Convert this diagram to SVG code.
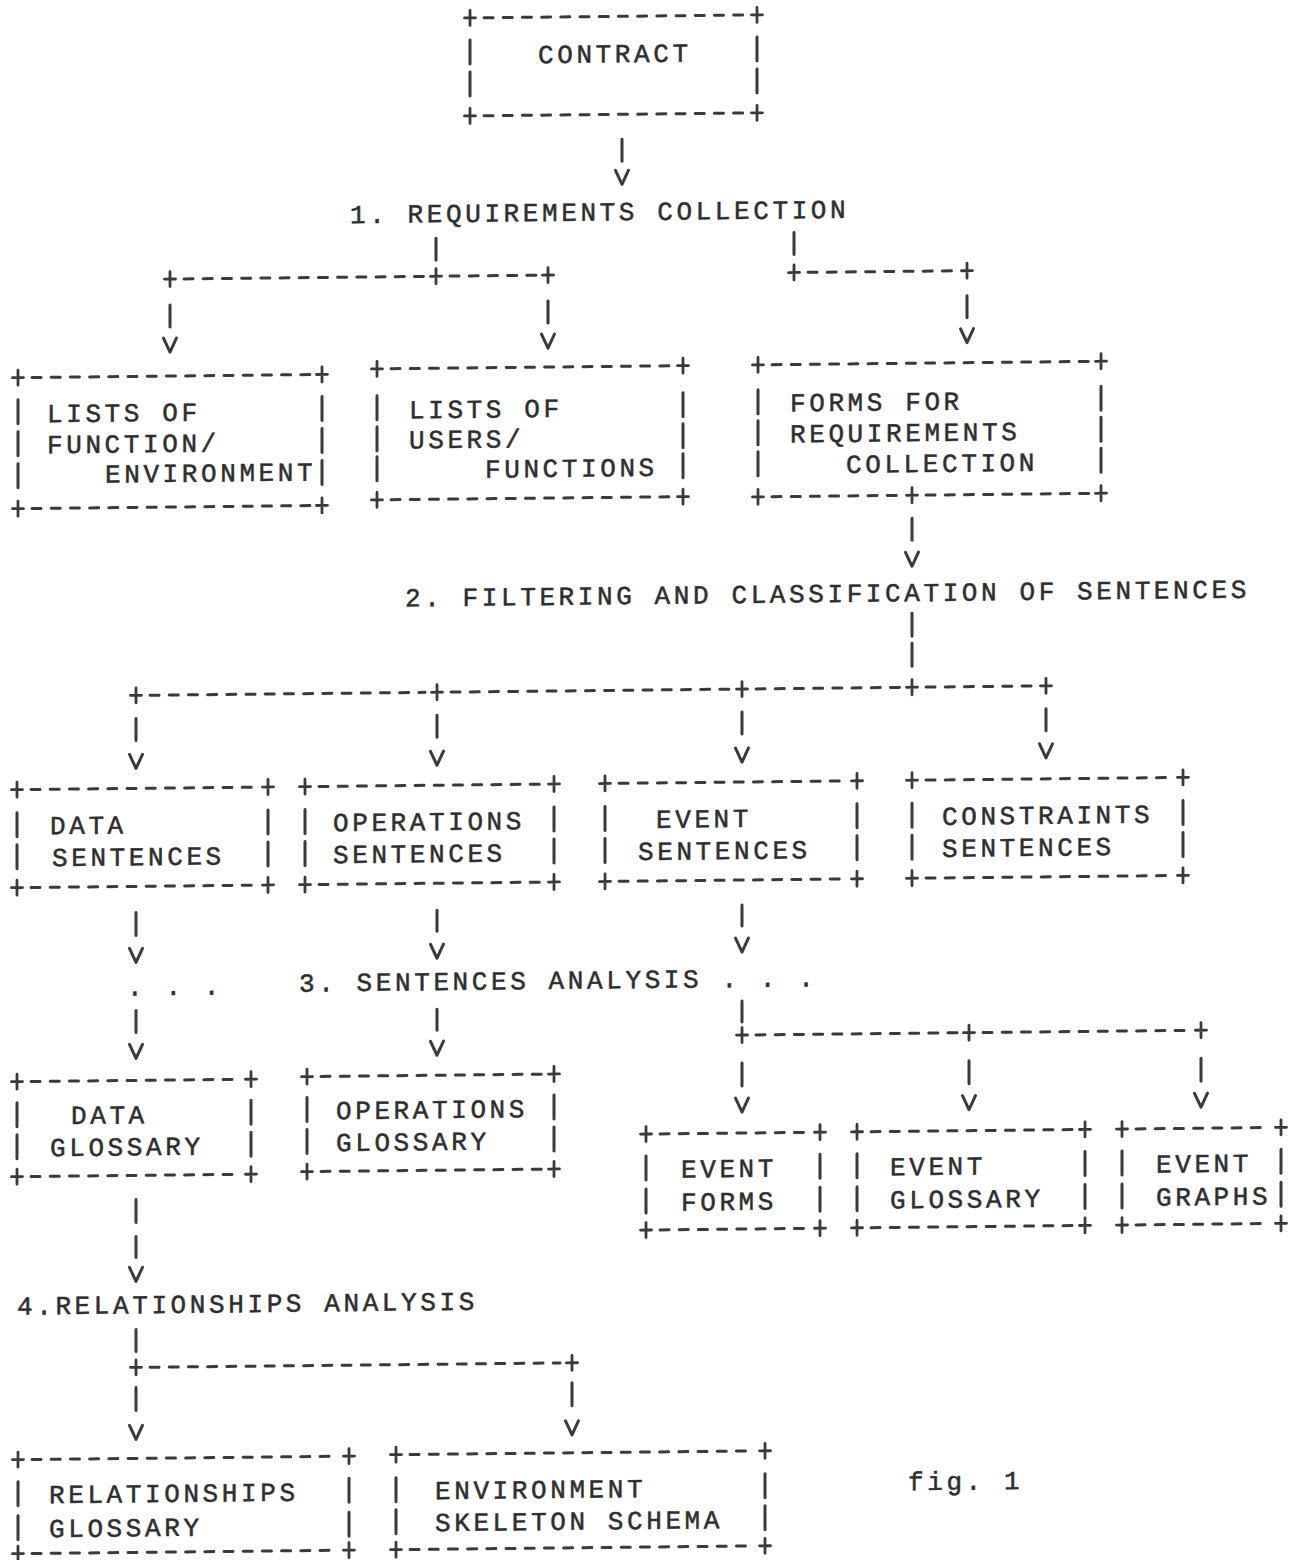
<svg xmlns="http://www.w3.org/2000/svg" xmlns:xlink="http://www.w3.org/1999/xlink" width="1299" height="1560" viewBox="0 0 1299 1560">
<style>
.d{fill:none;stroke:#3a3a3a;stroke-width:3;stroke-linecap:round;stroke-dasharray:9 10.2}
.s{fill:none;stroke:#3a3a3a;stroke-width:3;stroke-linecap:round}
.t{font-family:"Liberation Mono","DejaVu Sans Mono",monospace;font-size:26px;letter-spacing:3.6px;fill:#2e2e2e;stroke:#2e2e2e;stroke-width:0.5px}
</style>
<defs>
<path id="p" d="M-5.5,0H5.5M0,-7.5V7.5" fill="none" stroke="#3a3a3a" stroke-width="2.8" stroke-linecap="round"/>
<path id="v" d="M-6.5,-7L0,7L6.5,-7" fill="none" stroke="#3a3a3a" stroke-width="3" stroke-linecap="round" stroke-linejoin="round"/>
</defs>
<rect width="1299" height="1560" fill="#fff"/>
<g transform="matrix(1 -0.0105 0 1 0 6.825)">

<g id="contract">
<path class="d" d="M484,16H745M484,114H745"/>
<path class="s" d="M470,38V62M470,70V94M757,38V62M757,70V94"/>
<use href="#p" x="470" y="16"/><use href="#p" x="757" y="16"/><use href="#p" x="470" y="114"/><use href="#p" x="757" y="114"/>
<text class="t" x="538" y="62">CONTRACT</text>
</g>

<g id="step1"><text class="t" x="350" y="220">1. REQUIREMENTS COLLECTION</text></g>

<g id="lists-function">
<path class="d" d="M32,371H310M32,502H310"/>
<path class="s" d="M18,393V417M18,425V449M18,457V481M322,393V417M322,425V449M322,457V481"/>
<use href="#p" x="18" y="371"/><use href="#p" x="322" y="371"/><use href="#p" x="18" y="502"/><use href="#p" x="322" y="502"/>
<text class="t" x="47" y="416">LISTS OF</text>
<text class="t" x="47" y="447">FUNCTION/</text>
<text class="t" x="105" y="477">ENVIRONMENT</text>
</g>

<g id="lists-users">
<path class="d" d="M391,366H671M391,497H671"/>
<path class="s" d="M377,393V417M377,424V448M377,454V478M683,393V417M683,424V448M683,454V478"/>
<use href="#p" x="377" y="366"/><use href="#p" x="683" y="366"/><use href="#p" x="377" y="497"/><use href="#p" x="683" y="497"/>
<text class="t" x="409" y="416">LISTS OF</text>
<text class="t" x="409" y="446">USERS/</text>
<text class="t" x="485" y="476">FUNCTIONS</text>
</g>

<g id="forms">
<path class="d" d="M772,366H1089M772,498H900M926,498H1089"/>
<path class="s" d="M758,391V415M758,422V446M758,453V477M1101,391V415M1101,422V446M1101,453V477"/>
<use href="#p" x="758" y="366"/><use href="#p" x="1101" y="366"/><use href="#p" x="758" y="498"/><use href="#p" x="1101" y="498"/><use href="#p" x="912" y="498"/>
<text class="t" x="790" y="413">FORMS FOR</text>
<text class="t" x="790" y="444">REQUIREMENTS</text>
<text class="t" x="846" y="475">COLLECTION</text>
</g>

<g id="step2"><text class="t" x="405" y="604">2. FILTERING AND CLASSIFICATION OF SENTENCES</text></g>

<g id="data-sentences">
<path class="d" d="M31,783H256M31,881H256"/>
<path class="s" d="M17,806V830M17,838V862M268,806V830M268,838V862"/>
<use href="#p" x="17" y="783"/><use href="#p" x="268" y="783"/><use href="#p" x="17" y="881"/><use href="#p" x="268" y="881"/>
<text class="t" x="50" y="828">DATA</text>
<text class="t" x="52" y="860">SENTENCES</text>
</g>

<g id="operations-sentences">
<path class="d" d="M319,783H542M319,881H542"/>
<path class="s" d="M305,806V830M305,838V862M554,806V830M554,838V862"/>
<use href="#p" x="305" y="783"/><use href="#p" x="554" y="783"/><use href="#p" x="305" y="881"/><use href="#p" x="554" y="881"/>
<text class="t" x="333" y="828">OPERATIONS</text>
<text class="t" x="333" y="860">SENTENCES</text>
</g>

<g id="event-sentences">
<path class="d" d="M619,783H845M619,881H845"/>
<path class="s" d="M605,806V830M605,838V862M857,806V830M857,838V862"/>
<use href="#p" x="605" y="783"/><use href="#p" x="857" y="783"/><use href="#p" x="605" y="881"/><use href="#p" x="857" y="881"/>
<text class="t" x="656" y="828">EVENT</text>
<text class="t" x="638" y="860">SENTENCES</text>
</g>

<g id="constraints-sentences">
<path class="d" d="M926,783H1171M926,881H1171"/>
<path class="s" d="M912,806V830M912,838V862M1183,806V830M1183,838V862"/>
<use href="#p" x="912" y="783"/><use href="#p" x="1183" y="783"/><use href="#p" x="912" y="881"/><use href="#p" x="1183" y="881"/>
<text class="t" x="942" y="828">CONSTRAINTS</text>
<text class="t" x="942" y="860">SENTENCES</text>
</g>

<g id="step3"><text class="t" x="299" y="988">3. SENTENCES ANALYSIS . . .</text></g>

<g id="data-glossary">
<path class="d" d="M31,1075H239M31,1170H239"/>
<path class="s" d="M17,1096V1120M17,1128V1152M251,1096V1120M251,1128V1152"/>
<use href="#p" x="17" y="1075"/><use href="#p" x="251" y="1075"/><use href="#p" x="17" y="1170"/><use href="#p" x="251" y="1170"/>
<text class="t" x="71" y="1118">DATA</text>
<text class="t" x="50" y="1150">GLOSSARY</text>
</g>

<g id="operations-glossary">
<path class="d" d="M321,1073H542M321,1168H542"/>
<path class="s" d="M307,1094V1118M307,1126V1150M554,1094V1118M554,1126V1150"/>
<use href="#p" x="307" y="1073"/><use href="#p" x="554" y="1073"/><use href="#p" x="307" y="1168"/><use href="#p" x="554" y="1168"/>
<text class="t" x="336" y="1116">OPERATIONS</text>
<text class="t" x="336" y="1148">GLOSSARY</text>
</g>

<g id="event-forms">
<path class="d" d="M660,1134H808M660,1230H808"/>
<path class="s" d="M646,1156V1180M646,1189V1213M820,1156V1180M820,1189V1213"/>
<use href="#p" x="646" y="1134"/><use href="#p" x="820" y="1134"/><use href="#p" x="646" y="1230"/><use href="#p" x="820" y="1230"/>
<text class="t" x="681" y="1178">EVENT</text>
<text class="t" x="681" y="1211">FORMS</text>
</g>

<g id="event-glossary">
<path class="d" d="M871,1134H1073M871,1230H1073"/>
<path class="s" d="M857,1156V1180M857,1189V1213M1085,1156V1180M1085,1189V1213"/>
<use href="#p" x="857" y="1134"/><use href="#p" x="1085" y="1134"/><use href="#p" x="857" y="1230"/><use href="#p" x="1085" y="1230"/>
<text class="t" x="890" y="1178">EVENT</text>
<text class="t" x="890" y="1211">GLOSSARY</text>
</g>

<g id="event-graphs">
<path class="d" d="M1136,1134H1269M1136,1230H1269"/>
<path class="s" d="M1122,1156V1180M1122,1189V1213M1281,1156V1180M1281,1189V1213"/>
<use href="#p" x="1122" y="1134"/><use href="#p" x="1281" y="1134"/><use href="#p" x="1122" y="1230"/><use href="#p" x="1281" y="1230"/>
<text class="t" x="1156" y="1178">EVENT</text>
<text class="t" x="1156" y="1211">GRAPHS</text>
</g>

<g id="step4"><text class="t" x="17" y="1308">4.RELATIONSHIPS ANALYSIS</text></g>

<g id="relationships-glossary">
<path class="d" d="M32,1453H337M32,1547H337"/>
<path class="s" d="M18,1475V1499M18,1509V1533M349,1475V1499M349,1509V1533"/>
<use href="#p" x="18" y="1453"/><use href="#p" x="349" y="1453"/><use href="#p" x="18" y="1547"/><use href="#p" x="349" y="1547"/>
<text class="t" x="49" y="1497">RELATIONSHIPS</text>
<text class="t" x="49" y="1531">GLOSSARY</text>
</g>

<g id="environment-skeleton">
<path class="d" d="M410,1452H753M410,1547H753"/>
<path class="s" d="M396,1475V1499M396,1507V1531M765,1475V1499M765,1507V1531"/>
<use href="#p" x="396" y="1452"/><use href="#p" x="765" y="1452"/><use href="#p" x="396" y="1547"/><use href="#p" x="765" y="1547"/>
<text class="t" x="435" y="1497">ENVIRONMENT</text>
<text class="t" x="435" y="1529">SKELETON SCHEMA</text>
</g>

<g id="caption"><text class="t" x="908" y="1493">fig. 1</text></g>

<g id="connectors">
<g id="c-contract-step1">
<path class="s" d="M622,139V161"/><use href="#v" x="622" y="177"/>
</g>
<g id="c-step1-outputs">
<path class="s" d="M436,236V258M794,234V256M170,300V322M548,300V322M967,299V321"/>
<path class="d" d="M184,274H424M450,274H536M808,274H955"/>
<use href="#p" x="170" y="274"/><use href="#p" x="436" y="274"/><use href="#p" x="548" y="274"/><use href="#p" x="794" y="274"/><use href="#p" x="967" y="274"/>
<use href="#v" x="170" y="340"/><use href="#v" x="548" y="340"/><use href="#v" x="967" y="339"/>
</g>
<g id="c-forms-step2">
<path class="s" d="M912,521V543"/><use href="#v" x="912" y="562"/>
</g>
<g id="c-step2-outputs">
<path class="s" d="M912,616V639M912,646V669M136,713V735M437,713V735M742,713V735M1046,713V735"/>
<path class="d" d="M150,690H425M451,690H730M756,690H900M926,690H1034"/>
<use href="#p" x="136" y="690"/><use href="#p" x="437" y="690"/><use href="#p" x="742" y="690"/><use href="#p" x="912" y="690"/><use href="#p" x="1046" y="690"/>
<use href="#v" x="136" y="756"/><use href="#v" x="437" y="756"/><use href="#v" x="742" y="756"/><use href="#v" x="1046" y="755"/>
</g>
<g id="c-data-sentences-glossary">
<path class="s" d="M136,907V930M136,1005V1027"/>
<use href="#v" x="136" y="950"/><use href="#v" x="136" y="1046"/>
<text class="t" x="127" y="990">. . .</text>
</g>
<g id="c-operations-sentences-glossary">
<path class="s" d="M437,908V929M437,1007V1028"/>
<use href="#v" x="437" y="949"/><use href="#v" x="437" y="1046"/>
</g>
<g id="c-event-sentences-outputs">
<path class="s" d="M742,906V927M742,1002V1023M742,1064V1087M969,1064V1087M1201,1064V1087"/>
<path class="d" d="M756,1036H957M983,1036H1189"/>
<use href="#p" x="742" y="1036"/><use href="#p" x="969" y="1036"/><use href="#p" x="1201" y="1036"/>
<use href="#v" x="742" y="946"/><use href="#v" x="742" y="1106"/><use href="#v" x="969" y="1106"/><use href="#v" x="1201" y="1106"/>
</g>
<g id="c-data-glossary-step4">
<path class="s" d="M136,1194V1217M136,1231V1252"/><use href="#v" x="136" y="1269"/>
</g>
<g id="c-step4-outputs">
<path class="s" d="M136,1324V1346M136,1382V1405M572,1382V1405"/>
<path class="d" d="M150,1362H560"/>
<use href="#p" x="136" y="1362"/><use href="#p" x="572" y="1362"/>
<use href="#v" x="136" y="1427"/><use href="#v" x="572" y="1427"/>
</g>
</g>

</g>
</svg>
